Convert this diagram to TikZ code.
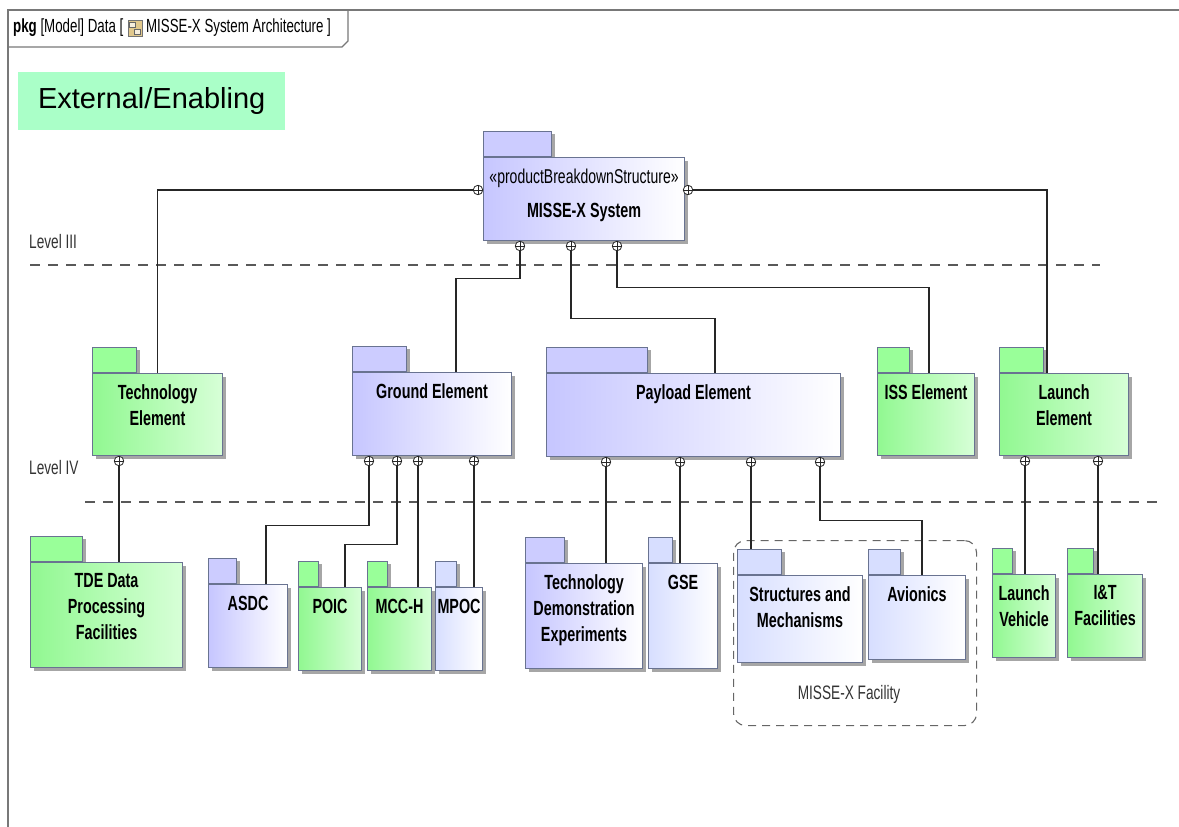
\documentclass[tikz,border=0pt]{standalone}
\usepackage{fontspec}
\setmainfont{Liberation Sans}
\newfontfamily\narrowfont{Liberation Sans}[FakeStretch=0.7]
\usepackage{xcolor}
\usetikzlibrary{positioning,shadows}

\definecolor{pkggreen}{RGB}{145,248,145}
\definecolor{pkggreenlt}{RGB}{215,255,215}
\definecolor{tabgreen}{RGB}{153,255,153}
\definecolor{pkgblue}{RGB}{198,198,255}
\definecolor{tabblue}{RGB}{204,204,255}
\definecolor{pkgbluelt}{RGB}{215,222,255}
\definecolor{pkgline}{RGB}{105,115,145}
\definecolor{extgreen}{RGB}{170,255,200}
\definecolor{framegray}{RGB}{120,120,120}
\definecolor{icontan}{RGB}{225,200,140}

\tikzset{
  pkgbase/.style={draw=pkgline, line width=1.1pt, anchor=north west, inner sep=0pt,
    drop shadow={shadow xshift=3pt, shadow yshift=-3pt, fill=black!35, opacity=1}},
  greenpkg/.style={pkgbase, left color=pkggreen, right color=pkggreenlt},
  bluepkg/.style={pkgbase, left color=pkgblue, right color=white},
  ltbluepkg/.style={pkgbase, left color=pkgbluelt, right color=white},
  greentab/.style={pkgbase, anchor=south west, fill=tabgreen, minimum height=25pt},
  bluetab/.style={pkgbase, anchor=south west, fill=tabblue, minimum height=25pt},
  ltbluetab/.style={pkgbase, anchor=south west, fill=pkgbluelt, minimum height=25pt},
  pkglbl/.style={anchor=north, yshift=-11.5pt, inner sep=0pt, align=center,
    font=\narrowfont\bfseries\fontsize{20.5}{26}\selectfont},
  port/.style={circle, draw=black!85, line width=0.8pt, fill=white, inner sep=0pt, minimum size=9.5pt,
    path picture={\draw[black!85, line width=0.7pt] (path picture bounding box.north) -- (path picture bounding box.south)
      (path picture bounding box.west) -- (path picture bounding box.east);}},
  conn/.style={draw=black!85, line width=1.1pt},
  sep/.style={draw=black!65, line width=1.3pt, dash pattern=on 10pt off 8pt},
  lvl/.style={inner sep=0pt, text=black!80, font=\narrowfont\fontsize{19.5}{23}\selectfont},
  frame/.style={draw=framegray, line width=1.2pt}
}

\begin{document}
\begin{tikzpicture}[x=1pt,y=-1pt,font=\narrowfont\fontsize{19}{23}\selectfont]
	\useasboundingbox (0,0) rectangle (1179,827);
	% diagram frame and header
	\draw[frame] (8,827) -- (8,10) -- (1179,10);
	\draw[frame] (8,47) -- (342,47) -- (348,41) -- (348,10);
	\node[anchor=west, inner sep=0pt] (hdr) at (13,28) {\textbf{pkg} [Model] Data [};
	\node[draw=black!55, fill=icontan, inner sep=0pt, minimum width=14pt, minimum height=16pt, right=4pt of hdr] (icon) {};
	\draw[black!60, fill=white!70!icontan] ([shift={(2pt,-2pt)}]icon.north west) rectangle ++(6,5);
	\draw[black!60, fill=white!70!icontan] ([shift={(-2pt,2pt)}]icon.south east) rectangle ++(-6,-5);
	\node[anchor=west, inner sep=0pt, right=4pt of icon] (hdrname) {MISSE-X System Architecture ]};
	\node[anchor=north west, fill=extgreen, inner sep=0pt, minimum width=267pt, minimum height=58pt,
	  font=\fontsize{29}{34}\selectfont] (ext) at (18,72) {External/Enabling};
	% levels
	\node[lvl, anchor=west] (lvl3) at (29,242) {Level III};
	\draw[sep] (30,265) -- (1100,265);
	\node[lvl, anchor=west] (lvl4) at (29,468) {Level IV};
	\draw[sep] (85,502) -- (1160,502);
	% system
	\node[bluetab, minimum width=68pt] (systab) at (483,157) {};
	\node[bluepkg, minimum width=201pt, minimum height=83pt,
	  label={[pkglbl, yshift=-0.5pt]north:{{\mdseries\fontsize{20}{26}\selectfont «productBreakdownStructure»}\\[7.5pt]MISSE-X System}}] (sys) at (systab.south west) {};
	% level III elements
	\node[greentab, minimum width=44pt] (techtab) at (92,373) {};
	\node[greenpkg, minimum width=130pt, minimum height=82pt, label={[pkglbl]north:{Technology\\Element}}] (techel) at (techtab.south west) {};
	\node[bluetab, minimum width=54pt] (groundtab) at (352,372) {};
	\node[bluepkg, minimum width=159pt, minimum height=83pt, label={[pkglbl]north:Ground Element}] (ground) at (groundtab.south west) {};
	\node[bluetab, minimum width=101pt] (payloadtab) at (546,373) {};
	\node[bluepkg, minimum width=294pt, minimum height=83pt, label={[pkglbl]north:Payload Element}] (payload) at (payloadtab.south west) {};
	\node[greentab, minimum width=32pt] (isstab) at (877,373) {};
	\node[greenpkg, minimum width=97pt, minimum height=82pt, label={[pkglbl]north:ISS Element}] (iss) at (isstab.south west) {};
	\node[greentab, minimum width=44pt] (launchtab) at (999,373) {};
	\node[greenpkg, minimum width=129pt, minimum height=82pt, label={[pkglbl]north:{Launch\\Element}}] (launchel) at (launchtab.south west) {};
	% level IV elements
	\node[greentab, minimum width=52pt] (tdetab) at (30,562) {};
	\node[greenpkg, minimum width=152pt, minimum height=105pt, label={[pkglbl]north:{TDE Data\\Processing\\Facilities}}] (tde) at (tdetab.south west) {};
	\node[bluetab, minimum width=28pt] (asdctab) at (208,584) {};
	\node[bluepkg, minimum width=79pt, minimum height=83pt, label={[pkglbl]north:ASDC}] (asdc) at (asdctab.south west) {};
	\node[greentab, minimum width=20pt] (poictab) at (298,587) {};
	\node[greenpkg, minimum width=63pt, minimum height=83pt, label={[pkglbl]north:POIC}] (poic) at (poictab.south west) {};
	\node[greentab, minimum width=20pt] (mcchtab) at (367,587) {};
	\node[greenpkg, minimum width=64pt, minimum height=83pt, label={[pkglbl]north:MCC-H}] (mcch) at (mcchtab.south west) {};
	\node[ltbluetab, minimum width=21pt] (mpoctab) at (435,587) {};
	\node[ltbluepkg, minimum width=47pt, minimum height=83pt, label={[pkglbl]north:MPOC}] (mpoc) at (mpoctab.south west) {};
	\node[bluetab, minimum width=39pt] (tdemotab) at (525,563) {};
	\node[bluepkg, minimum width=117pt, minimum height=105pt, label={[pkglbl]north:{Technology\\Demonstration\\Experiments}}] (tdemo) at (tdemotab.south west) {};
	\node[ltbluetab, minimum width=24pt] (gsetab) at (648,563) {};
	\node[ltbluepkg, minimum width=69pt, minimum height=105pt, label={[pkglbl]north:GSE}] (gse) at (gsetab.south west) {};
	\node[anchor=north west, draw=black!60, line width=1.1pt, dash pattern=on 8pt off 6pt, rounded corners=12pt,
	  minimum width=243pt, minimum height=185pt] (facility) at (733,540) {};
	\node[lvl] (faclbl) at (849,694) {MISSE-X Facility};
	\node[ltbluetab, minimum width=44pt] (structtab) at (737,575) {};
	\node[ltbluepkg, minimum width=125pt, minimum height=87pt, label={[pkglbl]north:{Structures and\\Mechanisms}}] (struct) at (structtab.south west) {};
	\node[ltbluetab, minimum width=32pt] (avtab) at (868,575) {};
	\node[ltbluepkg, minimum width=97pt, minimum height=84pt, label={[pkglbl]north:Avionics}] (avionics) at (avtab.south west) {};
	\node[greentab, minimum width=20pt] (lvtab) at (992,574) {};
	\node[greenpkg, minimum width=63pt, minimum height=83pt, label={[pkglbl]north:{Launch\\Vehicle}}] (lv) at (lvtab.south west) {};
	\node[greentab, minimum width=26pt] (ittab) at (1067,574) {};
	\node[greenpkg, minimum width=75pt, minimum height=83pt, label={[pkglbl]north:{I\&T\\Facilities}}] (itf) at (ittab.south west) {};
	% ports
	\node[port] (sysl) at (478,190) {};
	\node[port] (sysr) at (688,190) {};
	\node[port] (sysb1) at (520,246) {};
	\node[port] (sysb2) at (571,246) {};
	\node[port] (sysb3) at (617,246) {};
	\node[port] (techp) at (119,461) {};
	\node[port] (gp1) at (369,461) {};
	\node[port] (gp2) at (397,461) {};
	\node[port] (gp3) at (418,461) {};
	\node[port] (gp4) at (474,461) {};
	\node[port] (pp1) at (606,462) {};
	\node[port] (pp2) at (680,462) {};
	\node[port] (pp3) at (751,462) {};
	\node[port] (pp4) at (820,462) {};
	\node[port] (lp1) at (1025,461) {};
	\node[port] (lp2) at (1098,461) {};
	% connectors
	\draw[conn] (sysl.west) -| (techel.north);
	\draw[conn] (sysr.east) -| ([xshift=48pt]launchel.north west);
	\draw[conn] (sysb1.south) -- ++(0,27) -| ([xshift=104pt]ground.north west);
	\draw[conn] (sysb2.south) -- ++(0,67) -| ([xshift=169pt]payload.north west);
	\draw[conn] (sysb3.south) -- ++(0,36) -| ([xshift=52pt]iss.north west);
	\draw[conn] (techp.south) -- (techp.south |- tde.north);
	\draw[conn] (gp1.south) -- ++(0,59) -| ([xshift=58pt]asdc.north west);
	\draw[conn] (gp2.south) -- ++(0,78) -| ([xshift=47pt]poic.north west);
	\draw[conn] (gp3.south) -- (gp3.south |- mcch.north);
	\draw[conn] (gp4.south) -- (gp4.south |- mpoc.north);
	\draw[conn] (pp1.south) -- (pp1.south |- tdemo.north);
	\draw[conn] (pp2.south) -- (pp2.south |- gse.north);
	\draw[conn] (pp3.south) -- (pp3.south |- structtab.north);
	\draw[conn] (pp4.south) -- ++(0,53) -| ([xshift=54pt]avionics.north west);
	\draw[conn] (lp1.south) -- (lp1.south |- lv.north);
	\draw[conn] (lp2.south) -- (lp2.south |- itf.north);
\end{tikzpicture}
\end{document}
